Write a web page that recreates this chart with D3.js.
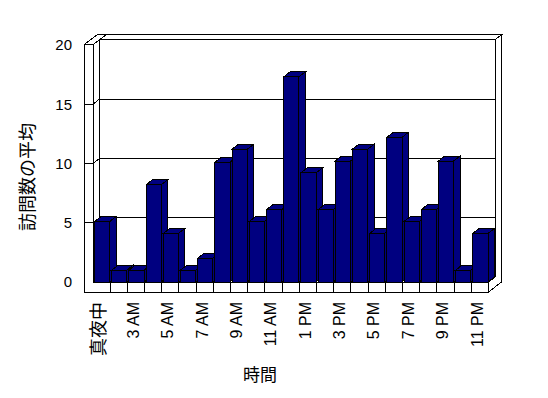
<!DOCTYPE html>
<html>
<head>
<meta charset="utf-8">
<script src="https://cdn.jsdelivr.net/npm/d3@7"></script>
<style>
  body { margin: 0; background: #fff; }
  svg { display: block; }
  text { fill: #000; }
</style>
</head>
<body>
<svg id="chart" width="548" height="398"></svg>
<script>
// hours (one slot between midnight and 3 AM is missing in the source)
var categories = ['真夜中', '1 AM', '3 AM', '4 AM', '5 AM', '6 AM', '7 AM', '8 AM', '9 AM', '10 AM', '11 AM',
    '12 PM', '1 PM', '2 PM', '3 PM', '4 PM', '5 PM', '6 PM', '7 PM', '8 PM', '9 PM', '10 PM', '11 PM'];
var visits = [5.1, 1, 1, 8.2, 4.1, 1, 2, 10.1, 11.2, 5.1, 6.1, 17.3, 9.2, 6.1, 10.2, 11.2, 4.1, 12.2, 5.1, 6.1, 10.2, 1, 4.1];
var yTicks = [0, 5, 10, 15, 20];
var shownLabels = categories.filter(function(d, i) { return i % 2 === 0; });

var yTitle = '訪問数の平均';
var xTitle = '時間';

var svg = d3.select('#chart').attr('shape-rendering', 'crispEdges');

// front plane and depth offset for one unit of depth
var wallLeft = 84, plotLeft = 93, plotRight = 488.5, floorBottom = 292;
var DX = 6.5, DY = -5;

var x = d3.scaleBand().domain(categories).range([plotLeft, plotRight]).padding(0);
var y = d3.scaleLinear().domain([0, 20]).range([282, 44.8]);
var y0 = y(0), yTop = y(20);

function poly(pts, fill) {
    svg.append('polygon')
        .attr('points', pts.map(function(p) { return p.join(','); }).join(' '))
        .attr('fill', fill || '#fff')
        .attr('stroke', '#000')
        .attr('stroke-width', 1);
}
function line(pts) {
    svg.append('polyline')
        .attr('points', pts.map(function(p) { return p.join(','); }).join(' '))
        .attr('fill', 'none')
        .attr('stroke', '#000')
        .attr('stroke-width', 1);
}

// walls: top faces, back wall, right side, left wall inner side, floor top
poly([[wallLeft, yTop], [plotLeft, yTop], [plotLeft + 2*DX, yTop + 2*DY], [wallLeft + 2*DX, yTop + 2*DY]]);
poly([[plotLeft + DX, yTop + DY], [plotRight + DX, yTop + DY], [plotRight + 2*DX, yTop + 2*DY], [plotLeft + 2*DX, yTop + 2*DY]]);
poly([[plotLeft + DX, yTop + DY], [plotRight + DX, yTop + DY], [plotRight + DX, y0 + DY], [plotLeft + DX, y0 + DY]]);
poly([[plotRight + DX, yTop + DY], [plotRight + 2*DX, yTop + 2*DY], [plotRight + 2*DX, floorBottom + 2*DY],
      [plotRight, floorBottom], [plotRight, y0], [plotRight + DX, y0 + DY]]);
poly([[plotLeft, yTop], [plotLeft + DX, yTop + DY], [plotLeft + DX, y0 + DY], [plotLeft, y0]]);
poly([[plotLeft, y0], [plotRight, y0], [plotRight + DX, y0 + DY], [plotLeft + DX, y0 + DY]]);

// gridlines: across the left wall side and the back wall
yTicks.forEach(function(v) {
    if (v === 0 || v === 20) return;
    line([[plotLeft, y(v)], [plotLeft + DX, y(v) + DY], [plotRight + DX, y(v) + DY]]);
});

// bars, left to right so each one covers the side of the previous one
var bw = x.bandwidth();
categories.forEach(function(c, i) {
    var v = visits[i];
    var x0 = x(c) + 1.5, x1 = x(c) + bw - 0.5, yt = y(v);
    poly([[x0, yt], [x1, yt], [x1 + DX, yt + DY], [x0 + DX, yt + DY]], '#000080');
    poly([[x1, yt], [x1 + DX, yt + DY], [x1 + DX, y0 + DY], [x1, y0]], '#000080');
    poly([[x0, yt], [x1, yt], [x1, y0], [x0, y0]], '#000080');
});

// left wall front face joined with the floor front face
poly([[wallLeft, yTop], [plotLeft, yTop], [plotLeft, y0], [plotRight, y0], [plotRight, floorBottom], [wallLeft, floorBottom]]);
yTicks.forEach(function(v) {
    if (v === 0 || v === 20) return;
    line([[wallLeft, y(v)], [plotLeft, y(v)]]);
});
categories.slice(1).forEach(function(c) {
    line([[x(c), y0], [x(c), floorBottom]]);
});

// tick labels
svg.selectAll('.ylab').data(yTicks).enter().append('text')
    .attr('class', 'ylab')
    .attr('x', 72)
    .attr('y', function(d) { return y(d); })
    .attr('dy', '0.36em')
    .attr('text-anchor', 'end')
    .style('font', '15px "Liberation Sans", Arial, sans-serif')
    .text(function(d) { return d; });

svg.selectAll('.xlab').data(shownLabels).enter().append('text')
    .attr('class', 'xlab')
    .attr('transform', function(d) {
        return 'translate(' + (x(d) + bw / 2 - 3) + ',302) rotate(-90)';
    })
    .attr('dy', '0.36em')
    .attr('text-anchor', 'end')
    .style('font-family', '"Liberation Sans", Arial, "Noto Sans CJK JP", sans-serif')
    .style('font-size', function(d) { return /[^\x00-\x7f]/.test(d) ? '18px' : '16px'; })
    .text(function(d) { return d; });

// axis titles
svg.append('text')
    .attr('transform', 'translate(28,177) rotate(-90)')
    .attr('dy', '0.36em')
    .attr('text-anchor', 'middle')
    .style('font', '18px "Noto Sans CJK JP", sans-serif')
    .text(yTitle);

svg.append('text')
    .attr('x', 260)
    .attr('y', 375)
    .attr('dy', '0.36em')
    .attr('text-anchor', 'middle')
    .style('font', '17px "Noto Sans CJK JP", sans-serif')
    .text(xTitle);
</script>
</body>
</html>
